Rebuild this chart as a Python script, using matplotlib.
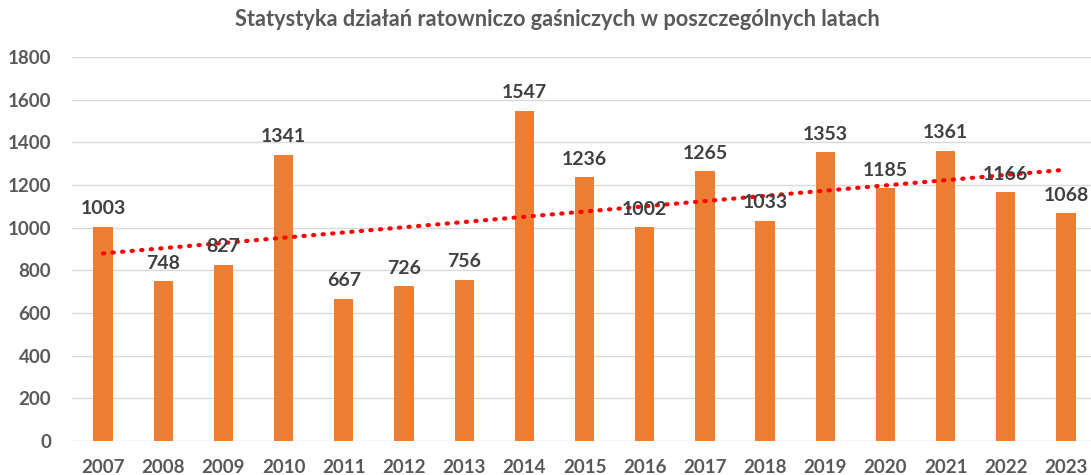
import matplotlib
matplotlib.use("Agg")
import matplotlib.pyplot as plt
import numpy as np

years = ["2007", "2008", "2009", "2010", "2011", "2012", "2013", "2014", "2015",
         "2016", "2017", "2018", "2019", "2020", "2021", "2022", "2023"]
values = [1003, 748, 827, 1341, 667, 726, 756, 1547, 1236,
          1002, 1265, 1033, 1353, 1185, 1361, 1166, 1068]
yticks = [0, 200, 400, 600, 800, 1000, 1200, 1400, 1600, 1800]
title = "Statystyka działań ratowniczo gaśniczych w poszczególnych latach"

plt.rcParams['font.family'] = ['Lato', 'DejaVu Sans']

W, H = 1091, 475
fig = plt.figure(figsize=(W / 100, H / 100), dpi=100)
left, right, bottom, top = 72, 1091, 441, 57
ax = fig.add_axes([left / W, 1 - bottom / H, (right - left) / W, (bottom - top) / H])

x = np.arange(len(years))
ax.bar(x, values, width=0.32, color="#ED7D31", zorder=2)

coef = np.polyfit(x, values, 1)
ax.plot(x, np.polyval(coef, x), color="#FF0000", linewidth=3,
        linestyle=(0, (0.3, 2.0)), dash_capstyle="round", zorder=3)

for xi, v in zip(x, values):
    ax.text(xi, v + 45, str(v), ha="center", va="bottom", fontsize=14,
            fontweight="bold", color="#404040", clip_on=False, zorder=4)

ax.set_xlim(-0.515, 16.415)
ax.set_ylim(0, 1800)
ax.set_yticks(yticks)
ax.set_yticklabels([str(t) for t in yticks])
ax.set_xticks(x)
ax.set_xticklabels(years)
ax.tick_params(axis="both", length=0, labelsize=13.5, labelcolor="#595959")
ax.tick_params(axis="y", pad=15)
ax.tick_params(axis="x", pad=13)
for lab in ax.get_xticklabels() + ax.get_yticklabels():
    lab.set_fontweight("bold")
ax.grid(axis="y", color="#D9D9D9", linewidth=1, zorder=0)
for s in ax.spines.values():
    s.set_visible(False)

fig.text(557 / W, 1 - 20 / H, title, ha="center", va="center", fontsize=15.7,
         fontweight="bold", color="#595959")

fig.savefig("out.png", dpi=100)
